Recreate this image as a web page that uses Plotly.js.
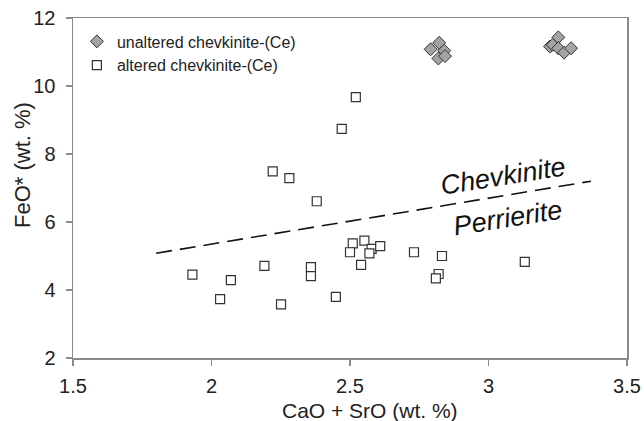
<!DOCTYPE html>
<html>
<head>
<meta charset="utf-8">
<script src="https://cdn.plot.ly/plotly-3.0.1.min.js"></script>
<style>html,body{margin:0;padding:0;background:#fff;}#chart{width:644px;height:421px;}</style>
</head>
<body>
<div id="chart"></div>
<script>
// Unaltered chevkinite-(Ce)
const unalteredX = [2.822, 2.791, 2.840, 2.819, 2.843, 3.222, 3.232, 3.252, 3.252, 3.273, 3.298];
const unalteredY = [11.27, 11.08, 11.04, 10.81, 10.88, 11.16, 11.21, 11.43, 11.11, 10.98, 11.11];
// Altered chevkinite-(Ce)
const alteredX = [1.931, 2.031, 2.070, 2.191, 2.251, 2.359, 2.359, 2.221, 2.281, 2.380, 2.470, 2.521,
                  2.510, 2.552, 2.500, 2.578, 2.570, 2.609, 2.540, 2.731, 2.832, 2.820, 2.810, 3.131, 2.449];
const alteredY = [4.45, 3.73, 4.29, 4.71, 3.58, 4.67, 4.41, 7.49, 7.29, 6.61, 8.74, 9.67,
                  5.37, 5.45, 5.11, 5.21, 5.08, 5.29, 4.74, 5.11, 5.00, 4.47, 4.34, 4.83, 3.80];
// Boundary line between chevkinite and perrierite fields
const boundaryX = [1.80, 3.37];
const boundaryY = [5.08, 7.20];
const xTicks = [1.5, 2, 2.5, 3, 3.5];
const yTicks = [2, 4, 6, 8, 10, 12];

const font = 'Liberation Sans, Arial, sans-serif';
const axisCol = '#8a8a8a';

const traces = [
  {x: boundaryX, y: boundaryY, mode: 'lines', showlegend: false, hoverinfo: 'skip',
   line: {color: '#111', width: 1.6, dash: '16px,8px'}},
  {x: unalteredX, y: unalteredY, mode: 'markers', name: 'unaltered chevkinite-(Ce)',
   marker: {symbol: 'diamond', size: 10, color: '#a3a3a3', line: {color: '#333', width: 1}}},
  {x: alteredX, y: alteredY, mode: 'markers', name: 'altered chevkinite-(Ce)',
   marker: {symbol: 'square', size: 9, color: '#fff', line: {color: '#333', width: 1.2}}}
];

const layout = {
  width: 644, height: 421,
  margin: {l: 73, r: 17, t: 18, b: 63},
  paper_bgcolor: '#fff', plot_bgcolor: '#fff',
  font: {family: font, color: '#222'},
  xaxis: {range: [1.5, 3.5], tickvals: xTicks, ticktext: xTicks.map(String),
    showgrid: false, zeroline: false, showline: true, linecolor: axisCol, linewidth: 1.5, mirror: true,
    ticks: 'outside', ticklen: 6, tickcolor: axisCol, tickwidth: 1.2, ticklabelstandoff: 3,
    tickfont: {size: 20, family: font, color: '#222'}},
  yaxis: {range: [2, 12], tickvals: yTicks, ticktext: yTicks.map(String),
    showgrid: false, zeroline: false, showline: true, linecolor: axisCol, linewidth: 1.5, mirror: true,
    ticks: 'outside', ticklen: 6, tickcolor: axisCol, tickwidth: 1.2, ticklabelstandoff: 6,
    tickfont: {size: 20, family: font, color: '#222'}},
  showlegend: true,
  legend: {x: 0.007, y: 0.981, xanchor: 'left', yanchor: 'top', bgcolor: 'rgba(0,0,0,0)',
    font: {size: 16, family: font, color: '#222'}, tracegroupgap: 0},
  annotations: [
    {text: 'CaO + SrO (wt. %)', xref: 'paper', yref: 'paper', x: 0.536, y: -0.155,
     xanchor: 'center', yanchor: 'middle', showarrow: false, font: {size: 21, family: font, color: '#222'}},
    {text: 'FeO* (wt. %)', xref: 'paper', yref: 'paper', x: -0.090, y: 0.568, textangle: -90,
     xanchor: 'center', yanchor: 'middle', showarrow: false, font: {size: 22, family: font, color: '#222'}},
    {text: '<i>Chevkinite</i>', xref: 'x', yref: 'y', x: 3.054, y: 7.35, textangle: -9,
     showarrow: false, font: {size: 27, family: font, color: '#111'}},
    {text: '<i>Perrierite</i>', xref: 'x', yref: 'y', x: 3.070, y: 6.12, textangle: -9,
     showarrow: false, font: {size: 27, family: font, color: '#111'}}
  ]
};

Plotly.newPlot('chart', traces, layout, {displayModeBar: false, staticPlot: true});
</script>
</body>
</html>
